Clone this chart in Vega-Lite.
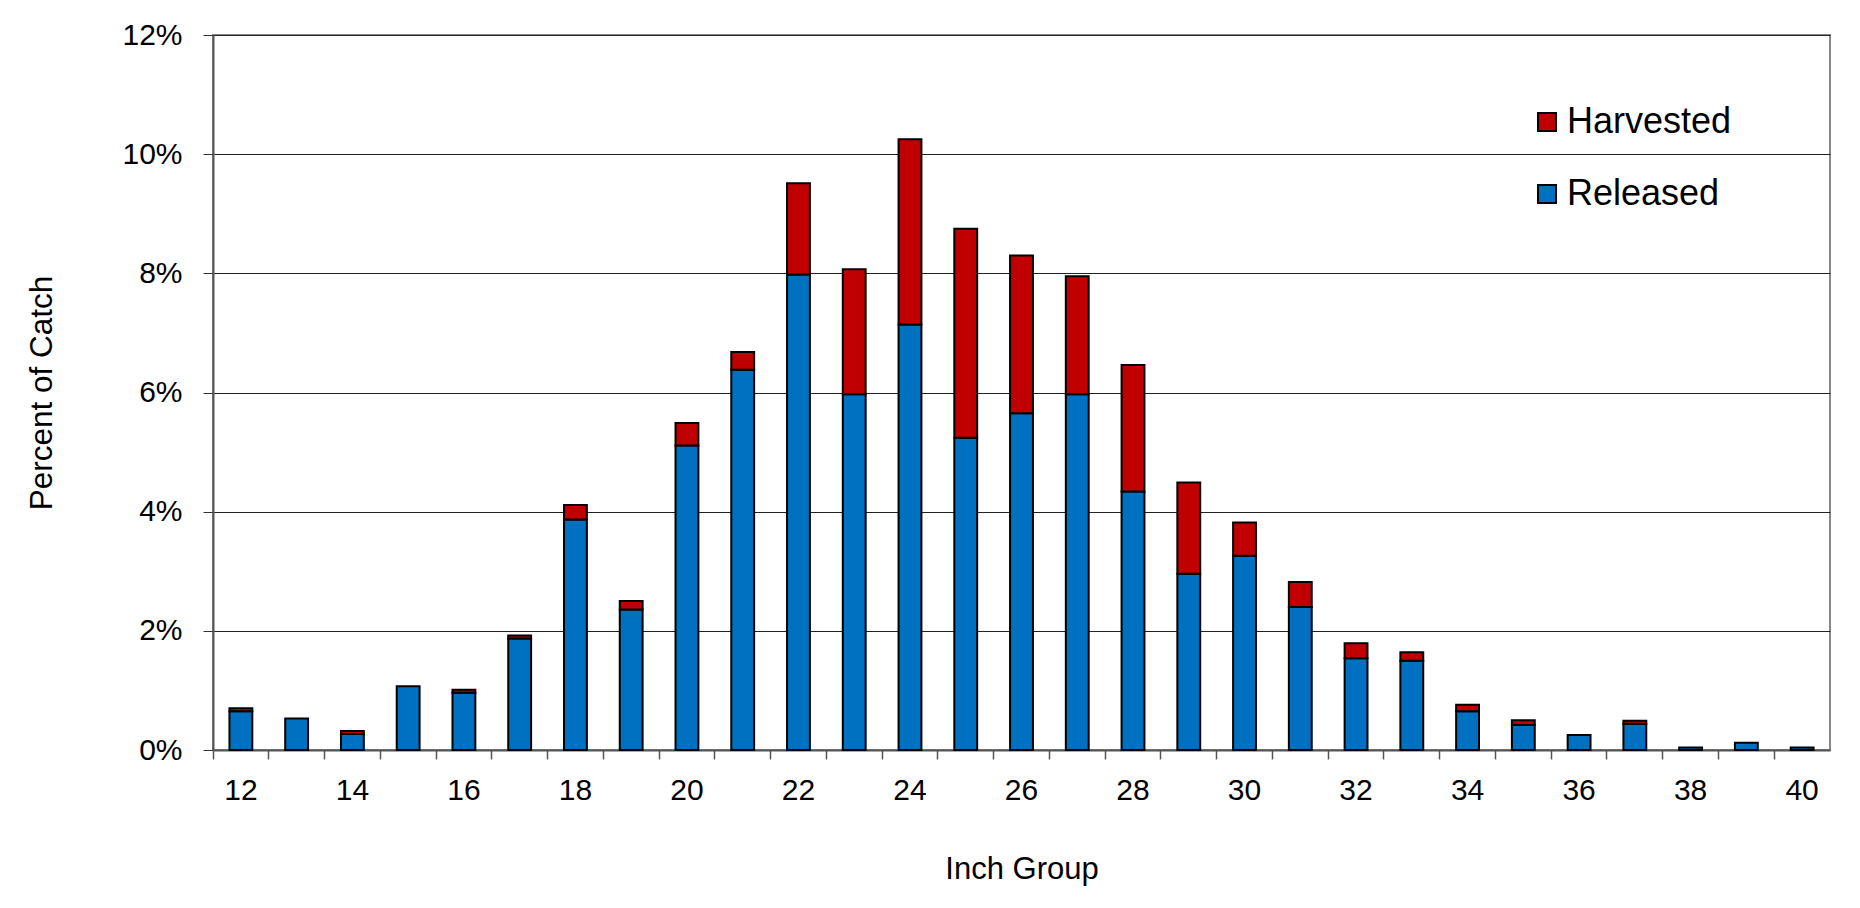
{
  "$schema": "https://vega.github.io/schema/vega-lite/v6.json",
  "width": 1617,
  "height": 715,
  "autosize": {"type": "none"},
  "padding": {"left": 213, "top": 35, "right": 30, "bottom": 158},
  "background": "white",
  "config": {
    "font": "Liberation Sans",
    "view": {"stroke": "#888888", "strokeWidth": 2},
    "axis": {"labelColor": "black", "titleColor": "black", "titleFontWeight": "normal"}
  },
  "data": {
    "values": [
      {"inch": 12, "type": "Released", "pct": 0.65}, {"inch": 12, "type": "Harvested", "pct": 0.05},
      {"inch": 13, "type": "Released", "pct": 0.53},
      {"inch": 14, "type": "Released", "pct": 0.27}, {"inch": 14, "type": "Harvested", "pct": 0.05},
      {"inch": 15, "type": "Released", "pct": 1.07},
      {"inch": 16, "type": "Released", "pct": 0.96}, {"inch": 16, "type": "Harvested", "pct": 0.05},
      {"inch": 17, "type": "Released", "pct": 1.87}, {"inch": 17, "type": "Harvested", "pct": 0.05},
      {"inch": 18, "type": "Released", "pct": 3.87}, {"inch": 18, "type": "Harvested", "pct": 0.24},
      {"inch": 19, "type": "Released", "pct": 2.36}, {"inch": 19, "type": "Harvested", "pct": 0.14},
      {"inch": 20, "type": "Released", "pct": 5.11}, {"inch": 20, "type": "Harvested", "pct": 0.38},
      {"inch": 21, "type": "Released", "pct": 6.38}, {"inch": 21, "type": "Harvested", "pct": 0.30},
      {"inch": 22, "type": "Released", "pct": 7.98}, {"inch": 22, "type": "Harvested", "pct": 1.53},
      {"inch": 23, "type": "Released", "pct": 5.97}, {"inch": 23, "type": "Harvested", "pct": 2.10},
      {"inch": 24, "type": "Released", "pct": 7.14}, {"inch": 24, "type": "Harvested", "pct": 3.11},
      {"inch": 25, "type": "Released", "pct": 5.24}, {"inch": 25, "type": "Harvested", "pct": 3.51},
      {"inch": 26, "type": "Released", "pct": 5.65}, {"inch": 26, "type": "Harvested", "pct": 2.65},
      {"inch": 27, "type": "Released", "pct": 5.97}, {"inch": 27, "type": "Harvested", "pct": 1.98},
      {"inch": 28, "type": "Released", "pct": 4.34}, {"inch": 28, "type": "Harvested", "pct": 2.12},
      {"inch": 29, "type": "Released", "pct": 2.96}, {"inch": 29, "type": "Harvested", "pct": 1.53},
      {"inch": 30, "type": "Released", "pct": 3.26}, {"inch": 30, "type": "Harvested", "pct": 0.56},
      {"inch": 31, "type": "Released", "pct": 2.40}, {"inch": 31, "type": "Harvested", "pct": 0.42},
      {"inch": 32, "type": "Released", "pct": 1.54}, {"inch": 32, "type": "Harvested", "pct": 0.25},
      {"inch": 33, "type": "Released", "pct": 1.50}, {"inch": 33, "type": "Harvested", "pct": 0.14},
      {"inch": 34, "type": "Released", "pct": 0.65}, {"inch": 34, "type": "Harvested", "pct": 0.11},
      {"inch": 35, "type": "Released", "pct": 0.42}, {"inch": 35, "type": "Harvested", "pct": 0.08},
      {"inch": 36, "type": "Released", "pct": 0.25},
      {"inch": 37, "type": "Released", "pct": 0.44}, {"inch": 37, "type": "Harvested", "pct": 0.05},
      {"inch": 38, "type": "Released", "pct": 0.04},
      {"inch": 39, "type": "Released", "pct": 0.12},
      {"inch": 40, "type": "Released", "pct": 0.04}
    ]
  },
  "mark": {"type": "bar", "width": {"band": 0.41}, "stroke": "black", "strokeWidth": 2},
  "encoding": {
    "x": {
      "field": "inch",
      "type": "ordinal",
      "scale": {"paddingInner": 0, "paddingOuter": 0},
      "axis": {
        "title": "Inch Group",
        "titleFontSize": 31,
        "titlePadding": 49,
        "labelAngle": 0,
        "labelFontSize": 30,
        "labelPadding": 16,
        "labelExpr": "datum.value % 2 == 0 ? datum.label : ''",
        "bandPosition": 0,
        "tickSize": 9,
        "tickColor": "#555555",
        "tickWidth": 1.5,
        "domainColor": "#555555",
        "domainWidth": 2
      }
    },
    "y": {
      "field": "pct",
      "type": "quantitative",
      "aggregate": "sum",
      "stack": "zero",
      "scale": {"domain": [0, 12], "nice": false},
      "axis": {
        "title": "Percent of Catch",
        "titleFontSize": 31.5,
        "titlePadding": 63,
        "values": [0, 2, 4, 6, 8, 10, 12],
        "labelExpr": "datum.value + '%'",
        "labelFontSize": 30,
        "labelPadding": 21,
        "tickSize": 10,
        "tickColor": "#333333",
        "domainColor": "#555555",
        "domainWidth": 2,
        "grid": true,
        "gridColor": "#222222",
        "gridWidth": 1
      }
    },
    "color": {
      "field": "type",
      "type": "nominal",
      "scale": {"domain": ["Harvested", "Released"], "range": ["#C00000", "#0070C0"]},
      "legend": {
        "title": null,
        "orient": "none",
        "legendX": 1316,
        "legendY": 69,
        "padding": 0,
        "symbolType": "square",
        "symbolSize": 324,
        "symbolStrokeColor": "black",
        "symbolStrokeWidth": 2,
        "labelFontSize": 36,
        "labelColor": "black",
        "labelOffset": 2,
        "labelLimit": 0,
        "rowPadding": 36
      }
    },
    "order": {"field": "type", "sort": "descending"}
  }
}
